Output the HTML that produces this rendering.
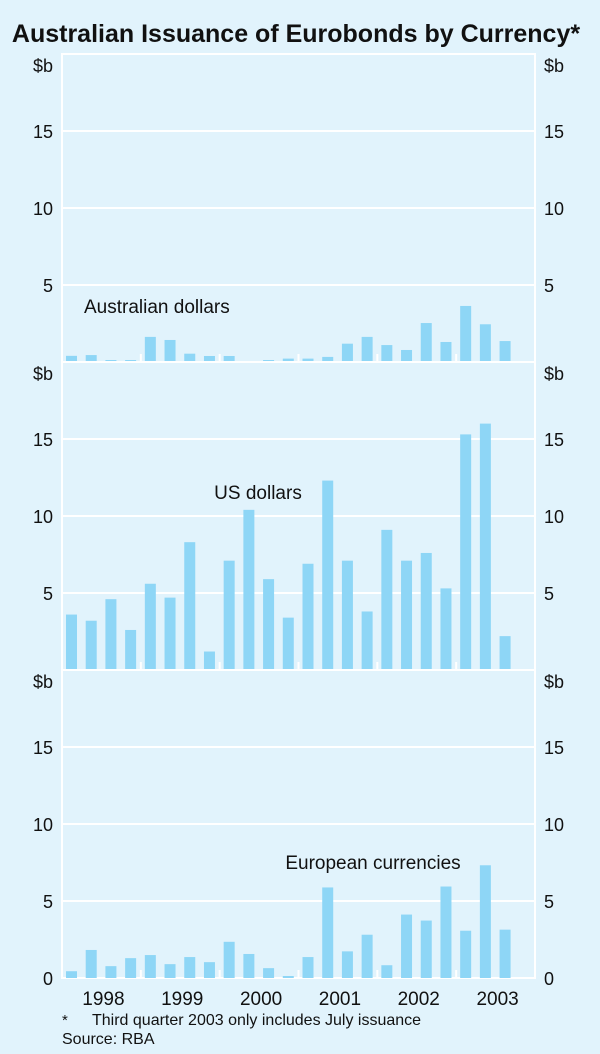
<!DOCTYPE html>
<html><head><meta charset="utf-8"><style>
body{margin:0;background:#e1f3fc;}
svg{display:block;font-family:"Liberation Sans",Arial,sans-serif;}
</style></head><body>
<svg id="c" width="600" height="1054"></svg>
<script>
const categories=[];for(let y=1998;y<=2003;y++)for(let q=1;q<=4;q++){if(y===2003&&q===4)break;categories.push(y+"Q"+q);}
const audValues=[0.4,0.45,0.13,0.13,1.63,1.43,0.54,0.39,0.39,0,0.13,0.22,0.22,0.33,1.19,1.63,1.1,0.78,2.53,1.3,3.64,2.45,1.36];
const usdValues=[3.6,3.2,4.6,2.6,5.6,4.7,8.3,1.2,7.1,10.4,5.9,3.4,6.9,12.3,7.1,3.8,9.1,7.1,7.6,5.3,15.3,16.0,2.2];
const eurValues=[0.44,1.82,0.77,1.29,1.49,0.9,1.36,1.03,2.35,1.56,0.64,0.13,1.36,5.88,1.73,2.81,0.83,4.12,3.73,5.94,3.07,7.32,3.14];
const yTicks=[5,10,15];
const yearLabels=["1998","1999","2000","2001","2002","2003"];
const svg=document.getElementById('c');const NS="http://www.w3.org/2000/svg";
function el(t,a,p){const e=document.createElementNS(NS,t);for(const k in a)e.setAttribute(k,a[k]);(p||svg).appendChild(e);return e;}
const L=62,R=535,slot=(R-L)/24,ppu=15.4;
const x=i=>L+i*slot;
const FS=18;
function panel(top,vals,name,label,lx,ly,anchor,showZero){
  const base=top+308,y=v=>base-v*ppu;
  const g=el('g',{});
  
  
  el('rect',{x:L,y:top,width:R-L,height:308,fill:'none',stroke:'#fff','stroke-width':2},g);
  yTicks.forEach(t=>{
    el('line',{x1:L,x2:R,y1:y(t),y2:y(t),stroke:'#fff','stroke-width':2},g);
    [[53,'end'],[544,'start']].forEach(([tx,an])=>{
      const s=el('text',{x:tx,y:y(t)+7,'text-anchor':an,'font-size':FS,fill:'#111'},g);s.textContent=t;
      
      
    });
  });
  if(showZero){[[53,'end'],[544,'start']].forEach(([tx,an])=>{const s=el('text',{x:tx,y:base+7,'text-anchor':an,'font-size':FS,fill:'#111'},g);s.textContent='0';
    
    });}
  [[53,'end'],[544,'start']].forEach(([tx,an])=>{const s=el('text',{x:tx,y:top+18,'text-anchor':an,'font-size':FS,fill:'#111'},g);s.textContent='$b';
    
    });
  for(let k=1;k<6;k++){el('line',{x1:x(k*4),x2:x(k*4),y1:base,y2:base-8,stroke:'#fff','stroke-width':2},g);}
  vals.forEach((v,i)=>{
    const r=el('rect',{x:x(i)+4,y:y(v),width:11,height:Math.max(0,v*ppu),fill:'#8ed6f6'},g);
    
    
  });
  const t=el('text',{x:lx,y:ly,'text-anchor':anchor,'font-size':19,fill:'#111'},g);t.textContent=label;
  
  
}
const tt=el('text',{x:296,y:42,'text-anchor':'middle','font-size':25,'font-weight':'bold',fill:'#111'});tt.textContent='Australian Issuance of Eurobonds by Currency*';


panel(54,audValues,'aud','Australian dollars',84,313,'start',false);
panel(362,usdValues,'usd','US dollars',258,499,'middle',false);
panel(670,eurValues,'eur','European currencies',373,869,'middle',true);
yearLabels.forEach((yl,k)=>{const t=el('text',{x:x(k*4+2)+2,y:1005,'text-anchor':'middle','font-size':19,fill:'#111'});t.textContent=yl;
  
  });
const f1=el('text',{x:62,y:1025,'font-size':15,fill:'#111'});f1.textContent='*';


const f2=el('text',{x:92,y:1025,'font-size':16,fill:'#111'});f2.textContent='Third quarter 2003 only includes July issuance';


const f3=el('text',{x:62,y:1044,'font-size':16,fill:'#111'});f3.textContent='Source: RBA';


</script>
</body></html>
